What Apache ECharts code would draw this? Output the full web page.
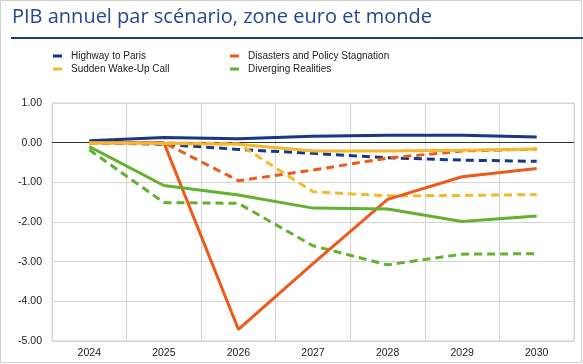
<!DOCTYPE html>
<html><head><meta charset="utf-8">
<script src="https://cdn.jsdelivr.net/npm/echarts@6/dist/echarts.min.js"></script>
<style>html,body{margin:0;padding:0;background:#fff}#c{width:583px;height:364px}</style>
</head><body><div id="c"></div>
<script>
const categories = ['2024','2025','2026','2027','2028','2029','2030'];
const yTicks = [-5, -4, -3, -2, -1, 0, 1];
// solid = zone euro, dashed = monde
const highwayEA   = [0.05, 0.13, 0.10, 0.16, 0.19, 0.19, 0.14];
const highwayW    = [0.00, -0.04, -0.17, -0.27, -0.38, -0.44, -0.47];
const disastersEA = [0.00, 0.00, -4.71, -3.05, -1.43, -0.86, -0.65];
const disastersW  = [0.00, 0.00, -0.96, -0.69, -0.39, -0.21, -0.16];
const wakeupEA    = [0.00, -0.02, -0.04, -0.21, -0.21, -0.19, -0.16];
const wakeupW     = [0.00, 0.00, -0.03, -1.24, -1.34, -1.33, -1.31];
const divergEA    = [-0.10, -1.08, -1.32, -1.65, -1.67, -1.99, -1.85];
const divergW     = [-0.18, -1.51, -1.53, -2.60, -3.08, -2.81, -2.80];

const C = {blue:'#15388a', orange:'#ec5b1b', yellow:'#f6b82a', green:'#62b22f'};
const names = ['Highway to Paris','Disasters and Policy Stagnation','Sudden Wake-Up Call','Diverging Realities'];

function ser(name, data, color, dashed){
  return {name, type:'line', data, symbol:'none', silent:true,
    lineStyle:{color, width:3, type: dashed ? [8,5] : 'solid'},
    itemStyle:{color}, z: dashed ? 2 : 3};
}
const series = [
  ser(names[0]+' (monde)', highwayW, C.blue, true),
  ser(names[1]+' (monde)', disastersW, C.orange, true),
  ser(names[2]+' (monde)', wakeupW, C.yellow, true),
  ser(names[3]+' (monde)', divergW, C.green, true),
  ser(names[0], highwayEA, C.blue, false),
  ser(names[1], disastersEA, C.orange, false),
  ser(names[2], wakeupEA, C.yellow, false),
  ser(names[3], divergEA, C.green, false)
];
series[0].markLine = {silent:true, symbol:'none', label:{show:false},
  lineStyle:{color:'#333', width:1, type:'solid'}, data:[{yAxis:0}], z:1};

function leg(name, left, top){
  return {data:[name], left, top, icon:'rect', itemWidth:9, itemHeight:3, itemGap:0,
    selectedMode:false, padding:0, textStyle:{fontSize:10, color:'#222', fontFamily:'Liberation Sans', padding:[0,0,0,4]}};
}

const chart = echarts.init(document.getElementById('c'), null, {renderer:'canvas'});
chart.setOption({
  animation:false,
  backgroundColor:'#fff',
  title:{text:'PIB annuel par scénario, zone euro et monde', left:7, top:2,
    textStyle:{fontFamily:'Open Sans', fontSize:20, fontWeight:'normal', color:'#25479a'}},
  graphic:[
    {type:'rect', shape:{x:0.5,y:0.5,width:581,height:362}, style:{fill:'none', stroke:'#d0d0d0', lineWidth:1}, silent:true},
    {type:'rect', shape:{x:11,y:37,width:572,height:2}, style:{fill:'#1c3a7e'}, silent:true}
  ],
  legend:[
    leg(names[0], 53, 51), leg(names[1], 230, 51),
    leg(names[2], 53, 64), leg(names[3], 230, 64)
  ],
  grid:{left:52, right:9, top:103, bottom:23, show:true, borderColor:'#d4d4d4', borderWidth:1},
  xAxis:{type:'category', data:categories, boundaryGap:true,
    axisLine:{show:false}, axisTick:{show:false},
    axisLabel:{fontSize:10.5, color:'#222', fontFamily:'Liberation Sans', margin:7},
    splitLine:{show:true, lineStyle:{color:'#d4d4d4', width:1}}},
  yAxis:{type:'value', min:yTicks[0], max:yTicks[yTicks.length-1], interval:1,
    axisLine:{show:false}, axisTick:{show:false},
    axisLabel:{fontSize:10.5, color:'#222', fontFamily:'Liberation Sans', margin:10,
      formatter:v=>v.toFixed(2)},
    splitLine:{lineStyle:{color:'#d4d4d4', width:1}}},
  series
});
</script></body></html>
